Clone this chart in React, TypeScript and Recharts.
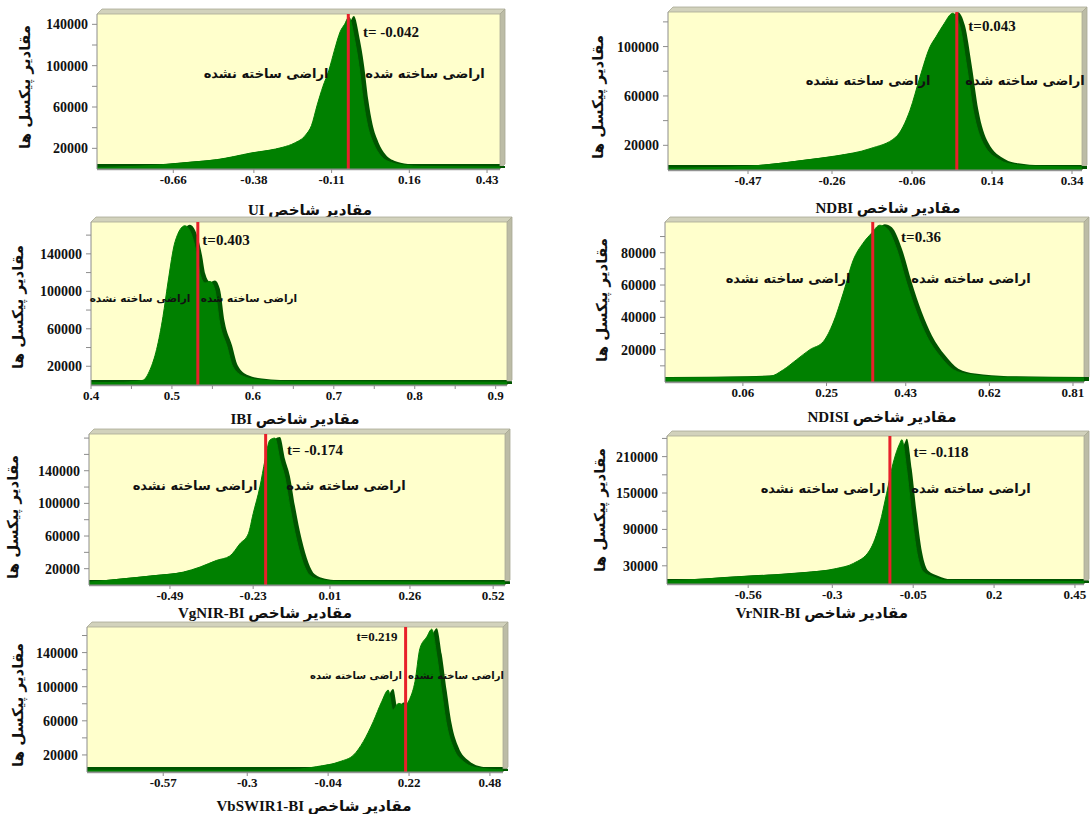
import React from 'react';
import {
  AreaChart,
  Area,
  XAxis,
  YAxis,
  CartesianGrid,
  ReferenceLine,
  Customized,
} from 'recharts';

// ---- UI ----
const uiX = [-0.925, -0.8, -0.7, -0.6, -0.51, -0.45, -0.39, -0.33, -0.28, -0.24, -0.2, -0.18, -0.16, -0.14, -0.12, -0.1, -0.08, -0.065, -0.05, -0.03, -0.015, 0.0, 0.015, 0.035, 0.06, 0.1, 0.15, 0.2, 0.475];
const uiCount = [1500, 2500, 4000, 6500, 9000, 12000, 15500, 18000, 21000, 25000, 33000, 42000, 62000, 80000, 95000, 115000, 133000, 140000, 147000, 125000, 100000, 66000, 42000, 25000, 13000, 6000, 3500, 2500, 2000];
const uiXTicks = [-0.66, -0.38, -0.11, 0.16, 0.43];
const uiYTicks = [20000, 40000, 60000, 80000, 100000, 120000, 140000];
const uiYLabels = [20000, 60000, 100000, 140000];

// ---- NDBI ----
const ndbiX = [-0.67, -0.55, -0.47, -0.4, -0.33, -0.25, -0.165, -0.1, -0.065, -0.04, -0.015, 0.0, 0.018, 0.042, 0.06, 0.077, 0.093, 0.118, 0.16, 0.193, 0.25, 0.365];
const ndbiCount = [1500, 2000, 3000, 5000, 7900, 11400, 17300, 26800, 48400, 75400, 99800, 107900, 117400, 127000, 116000, 83500, 48400, 21400, 7900, 4600, 3000, 2500];
const ndbiXTicks = [-0.47, -0.26, -0.06, 0.14, 0.34];
const ndbiYTicks = [20000, 40000, 60000, 80000, 100000, 120000];
const ndbiYLabels = [20000, 60000, 100000];

// ---- IBI ----
const ibiX = [0.4, 0.44, 0.464, 0.473, 0.481, 0.489, 0.495, 0.504, 0.516, 0.525, 0.531, 0.535, 0.541, 0.547, 0.553, 0.559, 0.568, 0.575, 0.588, 0.605, 0.65, 0.914];
const ibiCount = [2500, 3000, 5000, 16400, 37800, 73300, 108900, 153300, 170000, 158600, 137300, 117800, 108900, 110600, 101800, 66200, 41300, 20000, 9300, 5800, 3500, 3000];
const ibiXTicks = [0.4, 0.45, 0.5, 0.55, 0.6, 0.65, 0.7, 0.75, 0.8, 0.85, 0.9];
const ibiXLabels = [0.4, 0.5, 0.6, 0.7, 0.8, 0.9];
const ibiYTicks = [20000, 40000, 60000, 80000, 100000, 120000, 140000, 160000];
const ibiYLabels = [20000, 60000, 100000, 140000];

// ---- NDISI ----
const ndisiX = [-0.117, 0.06, 0.121, 0.152, 0.182, 0.212, 0.243, 0.265, 0.288, 0.311, 0.333, 0.352, 0.371, 0.387, 0.41, 0.432, 0.455, 0.478, 0.508, 0.538, 0.576, 0.65, 0.835];
const ndisiCount = [2500, 3000, 3500, 7600, 13800, 20000, 25100, 36500, 55000, 75600, 85900, 92000, 97000, 95100, 81700, 61200, 42700, 28200, 15900, 7600, 4600, 3000, 2500];
const ndisiXTicks = [0.06, 0.25, 0.43, 0.62, 0.81];
const ndisiYTicks = [10000, 20000, 30000, 40000, 50000, 60000, 70000, 80000, 90000];
const ndisiYLabels = [20000, 40000, 60000, 80000];

// ---- VgNIR-BI ----
const vgX = [-0.743, -0.65, -0.55, -0.448, -0.396, -0.344, -0.303, -0.271, -0.245, -0.23, -0.209, -0.193, -0.178, -0.162, -0.146, -0.131, -0.115, -0.094, -0.073, -0.053, -0.021, 0.05, 0.557];
const vgCount = [3500, 7000, 11000, 15800, 22000, 30200, 35500, 50700, 62900, 87400, 120100, 152900, 177400, 180000, 152900, 132400, 95600, 54700, 26100, 11800, 6500, 4000, 3500];
const vgXTicks = [-0.49, -0.23, 0.01, 0.26, 0.52];
const vgYTicks = [20000, 40000, 60000, 80000, 100000, 120000, 140000, 160000, 180000];
const vgYLabels = [20000, 60000, 100000, 140000];

// ---- VrNIR-BI ----
const vrX = [-0.811, -0.7, -0.596, -0.493, -0.39, -0.287, -0.235, -0.184, -0.153, -0.132, -0.112, -0.091, -0.085, -0.07, -0.055, -0.038, -0.019, 0.012, 0.05, 0.478];
const vrCount = [5000, 8000, 11700, 14500, 18400, 25600, 33900, 55900, 100000, 149600, 199200, 232200, 238000, 188000, 116500, 50400, 20000, 11700, 6000, 4000];
const vrXTicks = [-0.56, -0.3, -0.05, 0.2, 0.45];
const vrYTicks = [30000, 60000, 90000, 120000, 150000, 180000, 210000, 240000];
const vrYLabels = [30000, 90000, 150000, 210000];

// ---- VbSWIR1-BI ----
const vbX = [-0.815, -0.3, -0.15, -0.077, -0.002, 0.042, 0.073, 0.105, 0.132, 0.153, 0.168, 0.186, 0.207, 0.223, 0.239, 0.255, 0.277, 0.293, 0.309, 0.325, 0.341, 0.363, 0.395, 0.438, 0.522];
const vbCount = [2000, 2000, 3000, 6300, 12200, 20000, 35600, 59000, 82300, 96000, 72600, 80400, 78500, 86300, 105700, 144800, 158400, 167400, 137000, 94000, 55100, 27800, 12200, 5100, 2500];
const vbXTicks = [-0.57, -0.3, -0.04, 0.22, 0.48];
const vbYTicks = [20000, 40000, 60000, 80000, 100000, 120000, 140000, 160000];
const vbYLabels = [20000, 60000, 100000, 140000];

const SERIF = "'Liberation Serif', 'Times New Roman', 'DejaVu Sans', serif";
const ARABIC = "'DejaVu Sans', 'Noto Sans', sans-serif";
const Y_TITLE = 'مقادیر پیکسل ها';
const UNBUILT = 'اراضی ساخته نشده';
const BUILT = 'اراضی ساخته شده';

const Y_W = 70;
const M_T = 6;
const M_R = 8;
const X_H = 22;

interface Note {
  text: string;
  cx: number;
  cy: number;
  size: number;
  arabic?: boolean;
}

interface PanelDef {
  plot: { x: number; y: number; w: number; h: number };
  xs: number[];
  counts: number[];
  xDomain: [number, number];
  yMax: number;
  xTicks: number[];
  xLabels: number[];
  yTicks: number[];
  yLabels: number[];
  threshold: number;
  notes: Note[];
  yTitle: { cx: number; cy: number };
  xTitle: { text: string; cx: number; cy: number };
}

const Floor = ({ L, B, w }: { L: number; B: number; w: number }) => (
  <g>
    <rect x={L} y={B - 5} width={w} height={5} fill="#005400" />
    <rect x={L} y={B - 1.5} width={w} height={1.5} fill="#0a7a0a" />
  </g>
);

const Frame = ({ L, R, T, B }: { L: number; R: number; T: number; B: number }) => {
  const d = 5;
  return (
    <g>
      <polygon points={`${L},${T} ${L + d},${T - d} ${R + d},${T - d} ${R},${T}`} fill="#d2d2bc" stroke="#a8a894" strokeWidth={0.8} />
      <polygon points={`${R},${T} ${R + d},${T - d} ${R + d},${B - d} ${R},${B}`} fill="#bcbca6" stroke="#a8a894" strokeWidth={0.8} />
      <line x1={L} y1={B + 0.5} x2={R} y2={B + 0.5} stroke="#9a9a9a" strokeWidth={1.5} />
    </g>
  );
};

const Panel = ({ p }: { p: PanelDef }) => {
  const { plot } = p;
  const data = p.xs.map((x, i) => ({ x, count: p.counts[i] }));
  const width = Y_W + plot.w + M_R;
  const height = M_T + plot.h + X_H;
  const L = Y_W;
  const T = M_T;
  const R = Y_W + plot.w;
  const B = M_T + plot.h;
  const tickStyle = { fill: '#111', fontSize: 13, fontWeight: 700, fontFamily: SERIF };
  return (
    <>
      <div style={{ position: 'absolute', left: plot.x - Y_W, top: plot.y - M_T }}>
        <AreaChart width={width} height={height} data={data} margin={{ top: M_T, right: M_R, left: 0, bottom: 0 }}>
          <CartesianGrid fill="#FFFFCC" horizontal={false} vertical={false} />
          <XAxis
            type="number"
            dataKey="x"
            domain={p.xDomain}
            allowDataOverflow
            ticks={p.xTicks}
            interval={0}
            height={X_H}
            tickSize={4}
            tickMargin={2}
            stroke="#8c8c8c"
            tick={tickStyle}
            tickFormatter={(v: number) => (p.xLabels.includes(v) ? String(v) : '')}
          />
          <YAxis
            type="number"
            domain={[0, p.yMax]}
            allowDataOverflow
            ticks={p.yTicks}
            interval={0}
            width={Y_W}
            tickSize={5}
            tickMargin={4}
            stroke="#8c8c8c"
            tick={{ ...tickStyle, fontSize: 14 }}
            tickFormatter={(v: number) => (p.yLabels.includes(v) ? String(v) : '')}
          />
          <Area className="shadow3d" type="monotone" dataKey="count" fill="#005400" stroke="none" fillOpacity={1} isAnimationActive={false} />
          <Area type="monotone" dataKey="count" fill="#008000" stroke="#008000" fillOpacity={1} isAnimationActive={false} />
          <Customized component={<Floor L={L} B={B} w={plot.w} />} />
          <ReferenceLine x={p.threshold} stroke="#e8202a" strokeWidth={3} />
          <Customized component={<Frame L={L} R={R} T={T} B={B} />} />
        </AreaChart>
      </div>
      {p.notes.map((n, i) => (
        <div
          key={i}
          dir={n.arabic ? 'rtl' : 'ltr'}
          style={{
            position: 'absolute',
            left: n.cx,
            top: n.cy,
            transform: 'translate(-50%, -50%)',
            whiteSpace: 'nowrap',
            fontFamily: n.arabic ? ARABIC : SERIF,
            fontWeight: 700,
            fontSize: n.size,
            color: '#111',
          }}
        >
          {n.text}
        </div>
      ))}
      <div
        dir="rtl"
        style={{
          position: 'absolute',
          left: p.yTitle.cx,
          top: p.yTitle.cy,
          transform: 'translate(-50%, -50%) rotate(-90deg)',
          whiteSpace: 'nowrap',
          fontFamily: ARABIC,
          fontWeight: 700,
          fontSize: 15,
          color: '#111',
        }}
      >
        {Y_TITLE}
      </div>
      <div
        dir="rtl"
        style={{
          position: 'absolute',
          left: p.xTitle.cx,
          top: p.xTitle.cy,
          transform: 'translate(-50%, -50%)',
          whiteSpace: 'nowrap',
          fontFamily: SERIF,
          fontWeight: 700,
          fontSize: 15,
          color: '#111',
        }}
      >
        {p.xTitle.text}
      </div>
    </>
  );
};

const panels: PanelDef[] = [
  {
    plot: { x: 97, y: 14, w: 403, h: 155 },
    xs: uiX, counts: uiCount, xDomain: [-0.925, 0.475], yMax: 150000,
    xTicks: uiXTicks, xLabels: uiXTicks, yTicks: uiYTicks, yLabels: uiYLabels,
    threshold: -0.052,
    notes: [
      { text: 't= -0.042', cx: 391, cy: 32, size: 15 },
      { text: UNBUILT, cx: 266, cy: 73, size: 13, arabic: true },
      { text: BUILT, cx: 425, cy: 73, size: 13, arabic: true },
    ],
    yTitle: { cx: 25, cy: 87 },
    xTitle: { text: 'مقادیر شاخص UI', cx: 310, cy: 210 },
  },
  {
    plot: { x: 668, y: 12, w: 414, h: 158 },
    xs: ndbiX, counts: ndbiCount, xDomain: [-0.67, 0.365], yMax: 128000,
    xTicks: ndbiXTicks, xLabels: ndbiXTicks, yTicks: ndbiYTicks, yLabels: ndbiYLabels,
    threshold: 0.052,
    notes: [
      { text: 't=0.043', cx: 992, cy: 26, size: 15 },
      { text: UNBUILT, cx: 868, cy: 80, size: 13, arabic: true },
      { text: BUILT, cx: 1025, cy: 80, size: 13, arabic: true },
    ],
    yTitle: { cx: 598, cy: 97 },
    xTitle: { text: 'مقادیر شاخص NDBI', cx: 888, cy: 208 },
  },
  {
    plot: { x: 91, y: 222, w: 416, h: 163 },
    xs: ibiX, counts: ibiCount, xDomain: [0.4, 0.914], yMax: 174000,
    xTicks: ibiXTicks, xLabels: ibiXLabels, yTicks: ibiYTicks, yLabels: ibiYLabels,
    threshold: 0.532,
    notes: [
      { text: 't=0.403', cx: 226, cy: 240, size: 15 },
      { text: UNBUILT, cx: 140, cy: 298, size: 10.5, arabic: true },
      { text: BUILT, cx: 249, cy: 298, size: 10.5, arabic: true },
    ],
    yTitle: { cx: 18, cy: 307 },
    xTitle: { text: 'مقادیر شاخص IBI', cx: 295, cy: 419 },
  },
  {
    plot: { x: 665, y: 222, w: 419, h: 160 },
    xs: ndisiX, counts: ndisiCount, xDomain: [-0.117, 0.835], yMax: 99000,
    xTicks: ndisiXTicks, xLabels: ndisiXTicks, yTicks: ndisiYTicks, yLabels: ndisiYLabels,
    threshold: 0.355,
    notes: [
      { text: 't=0.36', cx: 921, cy: 237, size: 15 },
      { text: UNBUILT, cx: 788, cy: 278, size: 13, arabic: true },
      { text: BUILT, cx: 971, cy: 278, size: 13, arabic: true },
    ],
    yTitle: { cx: 602, cy: 300 },
    xTitle: { text: 'مقادیر شاخص NDISI', cx: 882, cy: 417 },
  },
  {
    plot: { x: 89, y: 434, w: 416, h: 151 },
    xs: vgX, counts: vgCount, xDomain: [-0.743, 0.557], yMax: 185000,
    xTicks: vgXTicks, xLabels: vgXTicks, yTicks: vgYTicks, yLabels: vgYLabels,
    threshold: -0.191,
    notes: [
      { text: 't= -0.174', cx: 315, cy: 450, size: 15 },
      { text: UNBUILT, cx: 195, cy: 485, size: 13, arabic: true },
      { text: BUILT, cx: 346, cy: 485, size: 13, arabic: true },
    ],
    yTitle: { cx: 13, cy: 517 },
    xTitle: { text: 'مقادیر شاخص VgNIR-BI', cx: 265, cy: 613 },
  },
  {
    plot: { x: 667, y: 436, w: 417, h: 148 },
    xs: vrX, counts: vrCount, xDomain: [-0.811, 0.478], yMax: 244000,
    xTicks: vrXTicks, xLabels: vrXTicks, yTicks: vrYTicks, yLabels: vrYLabels,
    threshold: -0.122,
    notes: [
      { text: 't= -0.118', cx: 941, cy: 452, size: 15 },
      { text: UNBUILT, cx: 823, cy: 488, size: 13, arabic: true },
      { text: BUILT, cx: 971, cy: 488, size: 13, arabic: true },
    ],
    yTitle: { cx: 600, cy: 510 },
    xTitle: { text: 'مقادیر شاخص VrNIR-BI', cx: 822, cy: 613 },
  },
  {
    plot: { x: 87, y: 627, w: 416, h: 145 },
    xs: vbX, counts: vbCount, xDomain: [-0.815, 0.522], yMax: 170000,
    xTicks: vbXTicks, xLabels: vbXTicks, yTicks: vbYTicks, yLabels: vbYLabels,
    threshold: 0.209,
    notes: [
      { text: 't=0.219', cx: 377, cy: 637, size: 13 },
      { text: BUILT, cx: 356, cy: 675, size: 10, arabic: true },
      { text: UNBUILT, cx: 456, cy: 675, size: 10, arabic: true },
    ],
    yTitle: { cx: 18, cy: 705 },
    xTitle: { text: 'مقادیر شاخص VbSWIR1-BI', cx: 314, cy: 806 },
  },
];

export default function App() {
  return (
    <div
      style={{
        position: 'absolute',
        left: 0,
        top: 0,
        width: 1090,
        height: 814,
        background: '#ffffff',
        overflow: 'hidden',
      }}
    >
      <style>{`.shadow3d { transform: translate(5px, -1px); }`}</style>
      {panels.map((p, i) => (
        <Panel key={i} p={p} />
      ))}
    </div>
  );
}
